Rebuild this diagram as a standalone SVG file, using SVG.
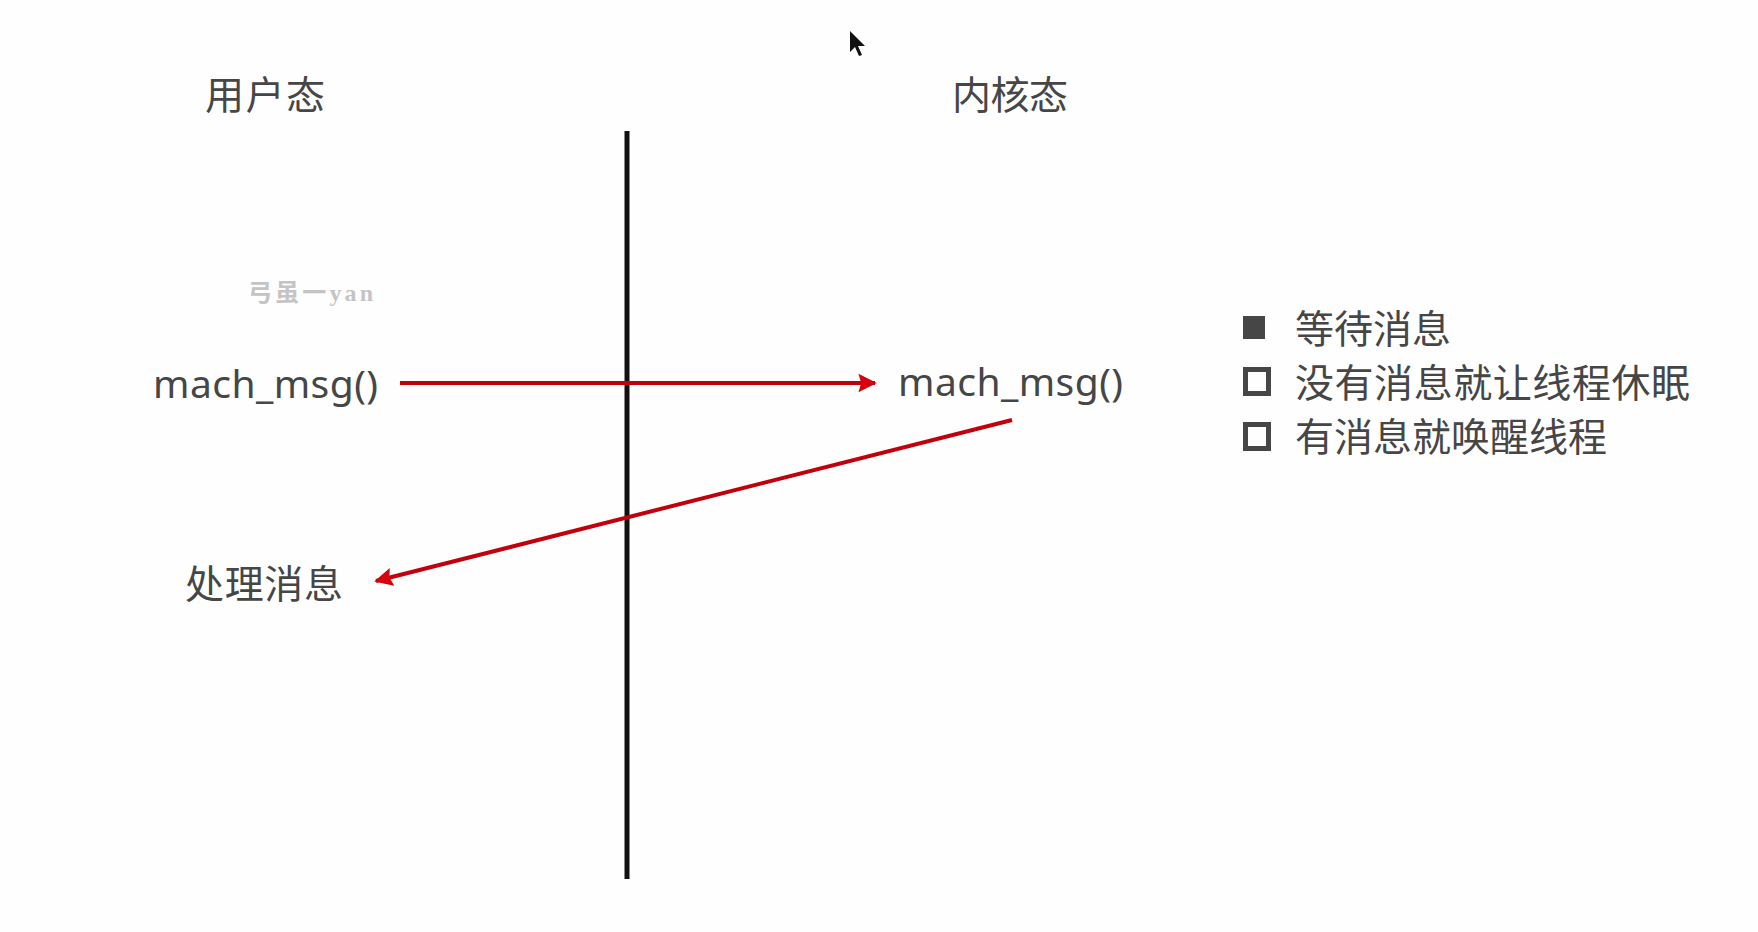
<svg xmlns="http://www.w3.org/2000/svg" width="1758" height="932" viewBox="0 0 1758 932">
<style>
.t{font-family:"Noto Sans CJK SC","Noto Sans",sans-serif;fill:#464646;font-size:39px}
.m{font-family:"Noto Sans","Noto Sans CJK SC",sans-serif;fill:#464646;font-size:39px}
.wm{font-family:"Liberation Serif","Noto Sans CJK SC",serif;fill:#c4c4c4;font-size:24px;font-weight:bold}
.red{stroke:#c0000c;stroke-width:4;fill:none}
</style>
<defs>
<marker id="ah" viewBox="0 0 10 10" refX="9" refY="5" markerWidth="4.6" markerHeight="4.8" markerUnits="strokeWidth" orient="auto">
<path d="M0,0 L10,5 L0,10 L1.5,5 Z" fill="#d8000c"/>
</marker>
</defs>
<rect width="1758" height="932" fill="#fefefe"/>
<g id="cursor"><path d="M850,31 L850,52 L855,47 L859,56 L862,55 L858,46 L865,46 Z" fill="#111"/></g>
<g id="user-title"><text class="t" x="205" y="109" textLength="120">用户态</text></g>
<g id="kernel-title"><text class="t" x="952" y="109" textLength="116">内核态</text></g>
<g id="divider"><line x1="627" y1="131" x2="627" y2="879" stroke="#111" stroke-width="5"/></g>
<g id="watermark"><text class="wm" x="248" y="301" textLength="125">弓虽一yan</text></g>
<g id="user-mach-msg"><text class="m" x="153" y="398" textLength="225">mach_msg()</text></g>
<g id="kernel-mach-msg"><text class="m" x="898" y="396" textLength="225">mach_msg()</text></g>
<g id="handle-msg"><text class="t" x="185" y="598" textLength="158">处理消息</text></g>
<g id="legend">
<rect x="1243" y="316" width="22" height="23" fill="#464646"/>
<text class="t" x="1295" y="343">等待消息</text>
<rect x="1245.5" y="369.5" width="23" height="24" fill="none" stroke="#464646" stroke-width="5"/>
<text class="t" x="1295" y="397" textLength="395">没有消息就让线程休眠</text>
<rect x="1245.5" y="424.5" width="23" height="24" fill="none" stroke="#464646" stroke-width="5"/>
<text class="t" x="1295" y="451">有消息就唤醒线程</text>
</g>
<g id="connectors">
<line class="red" x1="400" y1="383" x2="875" y2="383" marker-end="url(#ah)"/>
<line class="red" x1="1012" y1="420" x2="376" y2="581" marker-end="url(#ah)"/>
</g>
</svg>
